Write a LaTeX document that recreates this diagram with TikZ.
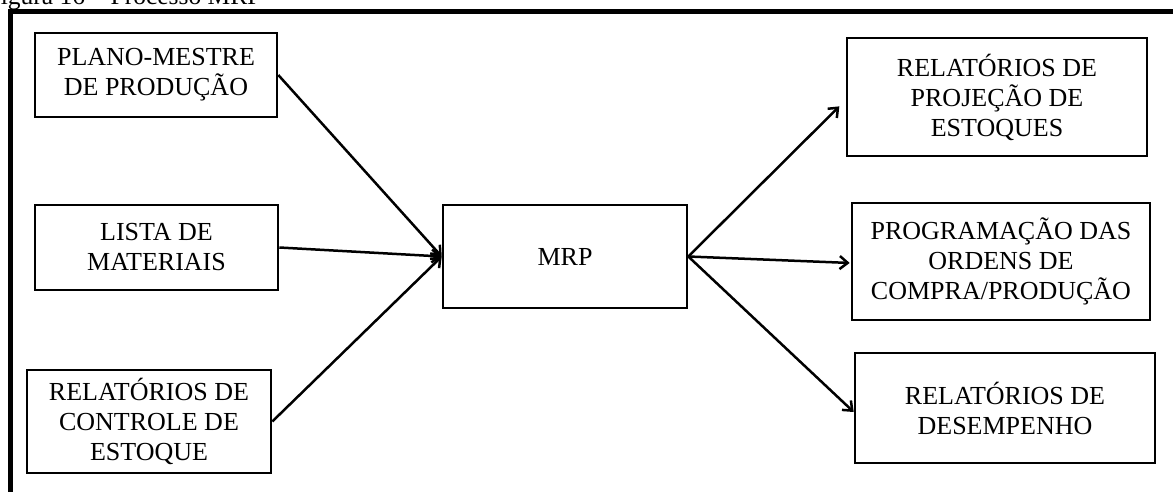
\documentclass[tikz,border=0pt]{standalone}
\usepackage{fontspec}
\setmainfont{Liberation Serif}
\usetikzlibrary{arrows.meta,calc}

\begin{document}
\begin{tikzpicture}[x=1pt,y=-1pt,
  box/.style={draw=black, line width=2.6pt, inner sep=0pt, align=center,
    font=\fontsize{26}{30}\selectfont},
  flow/.style={line width=2.5pt, -{Straight Barb[length=8pt,width=13pt,line width=2.5pt]}},
  frame/.style={line width=4.6pt}]
  \useasboundingbox (0,0) rectangle (1173,492);

  % caption above the frame
  \node[anchor=base west, inner sep=0pt, font=\fontsize{25.5}{30}\selectfont]
    (cap) at (-13.5,5) {Figura 16 – Processo MRP};

  % outer frame
  \draw[frame] (10.3,500) -- (10.3,11.7) -- (1190,11.7);

  % inputs
  \node[box, minimum width=242pt, minimum height=84pt]  (b1) at (156,75)
    {PLANO-MESTRE\\DE PRODUÇÃO};
  \node[box, minimum width=243pt, minimum height=85pt]  (b2) at (156.5,247.5)
    {LISTA DE\\MATERIAIS};
  \node[box, minimum width=244pt, minimum height=103pt] (b3) at (149,421.5)
    {RELATÓRIOS DE\\CONTROLE DE\\ESTOQUE};

  % central process
  \node[box, minimum width=244pt, minimum height=103pt] (mrp) at (565,256.5) {MRP};

  % outputs
  \node[box, minimum width=300pt, minimum height=118pt] (r1) at (997,97)
    {RELATÓRIOS DE\\PROJEÇÃO DE\\ESTOQUES};
  \node[box, minimum width=298pt, minimum height=117pt] (r2) at (1001,261.5)
    {PROGRAMAÇÃO DAS\\ORDENS DE\\COMPRA/PRODUÇÃO};
  \node[box, minimum width=300pt, minimum height=110pt] (r3) at (1005,408)
    {RELATÓRIOS DE\\DESEMPENHO};

  % connectors
  \draw[flow] (b1.east) -- (mrp.west);
  \draw[flow] (b2.east) -- (mrp.west);
  \draw[flow] (b3.east) -- (mrp.west);
  \draw[flow, shorten >=9pt] (mrp.east) -- ($(r1.west)+(0,3)$);
  \draw[flow, shorten >=1pt] (mrp.east) -- ($(r2.west)+(0,1.5)$);
  \draw[flow] (mrp.east) -- ($(r3.west)+(0,4)$);
\end{tikzpicture}
\end{document}
